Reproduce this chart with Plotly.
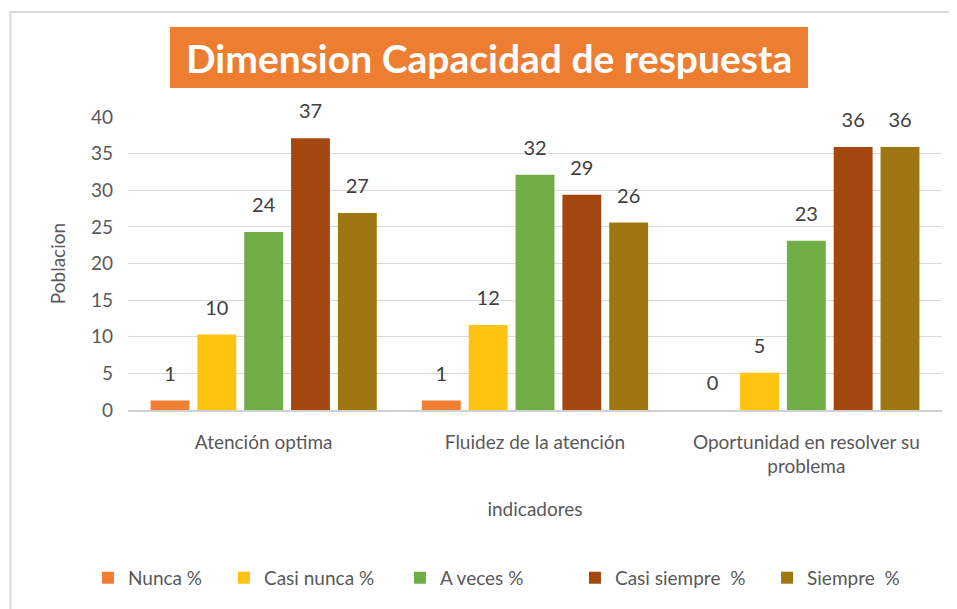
import plotly.graph_objects as go

# Categories (x axis)
indicadores = ["Atención optima", "Fluidez de la atención", "Oportunidad en resolver su<br>problema"]

# Series values
nunca = [1.3, 1.3, 0]
casi_nunca = [10.3, 11.6, 5.1]
a_veces = [24.3, 32.1, 23.1]
casi_siempre = [37.1, 29.4, 35.9]
siempre = [26.9, 25.6, 35.9]

series_names = ["Nunca %", "Casi nunca %", "A veces %", "Casi siempre  %", "Siempre  %"]
series_values = [nunca, casi_nunca, a_veces, casi_siempre, siempre]
series_colors = ["#F07F34", "#FEC211", "#6EAE45", "#A4470F", "#9F7710"]

FONT = "Lato, 'Open Sans', sans-serif"
TXT = "#595959"
GAP = 0.137

# one legend per series so the entries can be spaced like the original
legend_ids = ["legend", "legend2", "legend3", "legend4", "legend5"]
legend_x = [-0.0492, 0.1179, 0.3341, 0.5491, 0.7851]

fig = go.Figure()
for idx, (name, vals, col) in enumerate(zip(series_names, series_values, series_colors)):
    fig.add_trace(go.Bar(
        name=name, x=indicadores, y=vals,
        marker=dict(color=col, line=dict(width=0)),
        offsetgroup=str(idx), alignmentgroup="a",
        legend=legend_ids[idx],
    ))
# data labels, sitting a little above each bar
for idx, vals in enumerate(series_values):
    fig.add_trace(go.Scatter(
        x=indicadores, y=vals, mode="markers+text",
        text=[f"{v:.0f}" for v in vals], textposition="top center",
        textfont=dict(size=20, color="#404040", family=FONT),
        marker=dict(size=22, color="rgba(0,0,0,0)"),
        offsetgroup=str(idx), alignmentgroup="a",
        showlegend=False, hoverinfo="skip", cliponaxis=False,
    ))

legends = {}
for lid, lx in zip(legend_ids, legend_x):
    legends[lid] = dict(orientation="h", x=lx, xanchor="left", y=-0.573, yanchor="middle",
                        font=dict(size=19, color=TXT), itemwidth=30,
                        bgcolor="rgba(0,0,0,0)")

# the page body adds an 8px margin, so the figure is 8px smaller than the window
fig.update_layout(
    width=949, height=601,
    margin=dict(l=120, r=15, t=109, b=199),
    paper_bgcolor="white", plot_bgcolor="white",
    barmode="group", bargap=GAP, bargroupgap=0.17,
    scattermode="group", scattergap=GAP,
    font=dict(family=FONT, size=19, color=TXT),
    showlegend=True,
    **legends,
    xaxis=dict(
        showgrid=False, showline=True, linecolor="#D0D0D0", linewidth=1.5,
        tickfont=dict(size=19, color=TXT), ticklabelstandoff=14,
        title=dict(text="indicadores", font=dict(size=19, color=TXT), standoff=26),
    ),
    yaxis=dict(
        range=[0, 40], dtick=5, showgrid=True, gridcolor="#D9D9D9", gridwidth=1,
        zeroline=False, showline=False,
        tickfont=dict(size=19, color=TXT), ticklabelstandoff=14,
        title=dict(text="Poblacion", font=dict(size=19, color=TXT), standoff=20),
    ),
    shapes=[
        # chart frame
        dict(type="rect", xref="paper", yref="paper", x0=-0.1443, x1=1.2, y0=-1.0, y1=1.358,
             line=dict(color="#D9D9D9", width=2), fillcolor="rgba(0,0,0,0)", layer="below"),
        # title box
        dict(type="rect", xref="paper", yref="paper", x0=0.0516, x1=0.8354, y0=1.099, y1=1.307,
             line=dict(width=0), fillcolor="#ED7D31"),
    ],
    annotations=[
        dict(text="<b>Dimension Capacidad de respuesta</b>", xref="paper", yref="paper",
             x=0.4435, y=1.203, xanchor="center", yanchor="middle", showarrow=False,
             font=dict(size=39, color="white", family=FONT)),
    ],
)

fig.write_html("out.html")
